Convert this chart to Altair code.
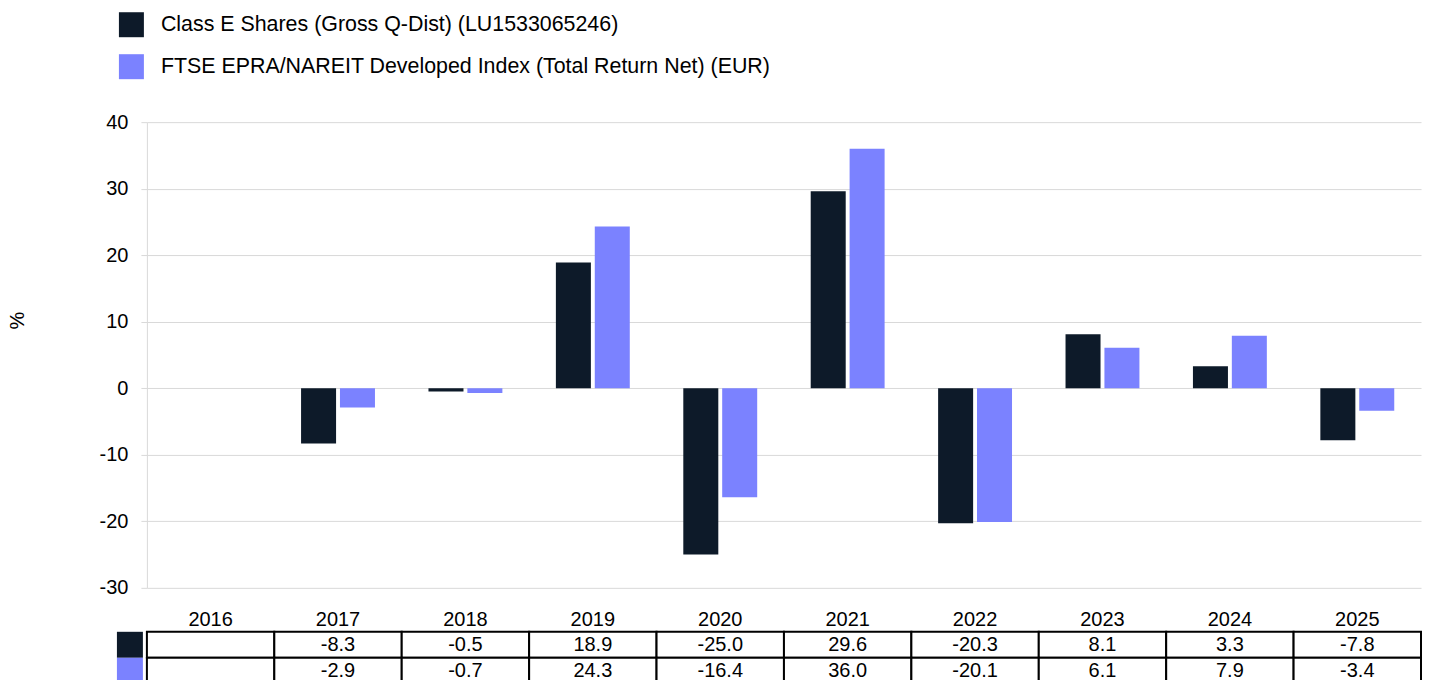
import altair as alt
import pandas as pd

years = ["2016", "2017", "2018", "2019", "2020", "2021", "2022", "2023", "2024", "2025"]
fund = [None, -8.3, -0.5, 18.9, -25.0, 29.6, -20.3, 8.1, 3.3, -7.8]
index = [None, -2.9, -0.7, 24.3, -16.4, 36.0, -20.1, 6.1, 7.9, -3.4]
series = [
    "Class E Shares (Gross Q-Dist) (LU1533065246)",
    "FTSE EPRA/NAREIT Developed Index (Total Return Net) (EUR)",
]
colors = ["#0d1a29", "#7b82ff"]
y_ticks = [-30, -20, -10, 0, 10, 20, 30, 40]

rows = []
for s, vals, c in zip(series, [fund, index], colors):
    for yr, v in zip(years, vals):
        rows.append({
            "year": yr,
            "series": s,
            "value": v,
            "label": "" if v is None else f"{v:.1f}",
            "hex": c,
        })
df = pd.DataFrame(rows)
swatch_df = pd.DataFrame({"series": series, "hex": colors})

FONT = "Liberation Sans"
color_scale = alt.Scale(domain=series, range=colors)

bars = alt.Chart(df).mark_bar().encode(
    x=alt.X("year:N", sort=years, axis=None,
            scale=alt.Scale(domain=years, paddingInner=0.42, paddingOuter=0.21)),
    xOffset=alt.XOffset("series:N", sort=series,
                        scale=alt.Scale(domain=series, paddingInner=0.1, paddingOuter=0)),
    y=alt.Y("value:Q",
            scale=alt.Scale(domain=[-30, 40], nice=False, zero=False),
            axis=alt.Axis(values=y_ticks, title="%", grid=True, gridColor="#d9d9d9",
                          domainColor="#d9d9d9", tickColor="#d9d9d9", tickSize=6,
                          labelExpr="'' + datum.value",
                          labelFontSize=20, labelColor="black", labelPadding=13,
                          labelFont=FONT, titleFont=FONT, titleFontSize=20,
                          titleFontWeight="normal", titleColor="black",
                          titleX=-129, titleY=198, titleAngle=270,
                          titleAlign="center", titleBaseline="middle")),
    color=alt.Color("series:N", scale=color_scale, sort=series,
                    legend=alt.Legend(title=None, orient="none", legendX=-28, legendY=-110,
                                      direction="vertical", symbolType="square",
                                      symbolSize=625, symbolStrokeWidth=0,
                                      labelFontSize=21.4, labelFont=FONT, labelColor="black",
                                      rowPadding=17, labelOffset=17, labelLimit=0)),
).properties(width=1275, height=466)

base = alt.Chart(df).encode(
    x=alt.X("year:N", sort=years,
            scale=alt.Scale(domain=years, paddingInner=0, paddingOuter=0),
            axis=alt.Axis(orient="top", title=None, domain=False, ticks=False,
                          labelFontSize=20, labelPadding=2, labelAngle=0,
                          labelColor="black", labelFont=FONT)),
    y=alt.Y("series:N", sort=series,
            scale=alt.Scale(domain=series, paddingInner=0, paddingOuter=0),
            axis=None),
)
cells = base.mark_rect(fill="white", stroke="black", strokeWidth=2)
texts = base.mark_text(fontSize=20, font=FONT, color="black", baseline="middle").encode(
    text="label:N")
swatches = alt.Chart(swatch_df).mark_rect().encode(
    x=alt.value(-30), x2=alt.value(-4),
    y=alt.Y("series:N", sort=series,
            scale=alt.Scale(domain=series, paddingInner=0, paddingOuter=0), axis=None),
    color=alt.Color("hex:N", scale=None),
)
table = alt.layer(cells, texts, swatches).properties(width=1275, height=52)

chart = alt.vconcat(bars, table, spacing=12).properties(
    padding={"left": 8, "top": 12, "right": 9, "bottom": 0}
).configure(font=FONT).configure_view(strokeWidth=0)

chart.save("out.html", embed_options={"renderer": "svg", "actions": False})
